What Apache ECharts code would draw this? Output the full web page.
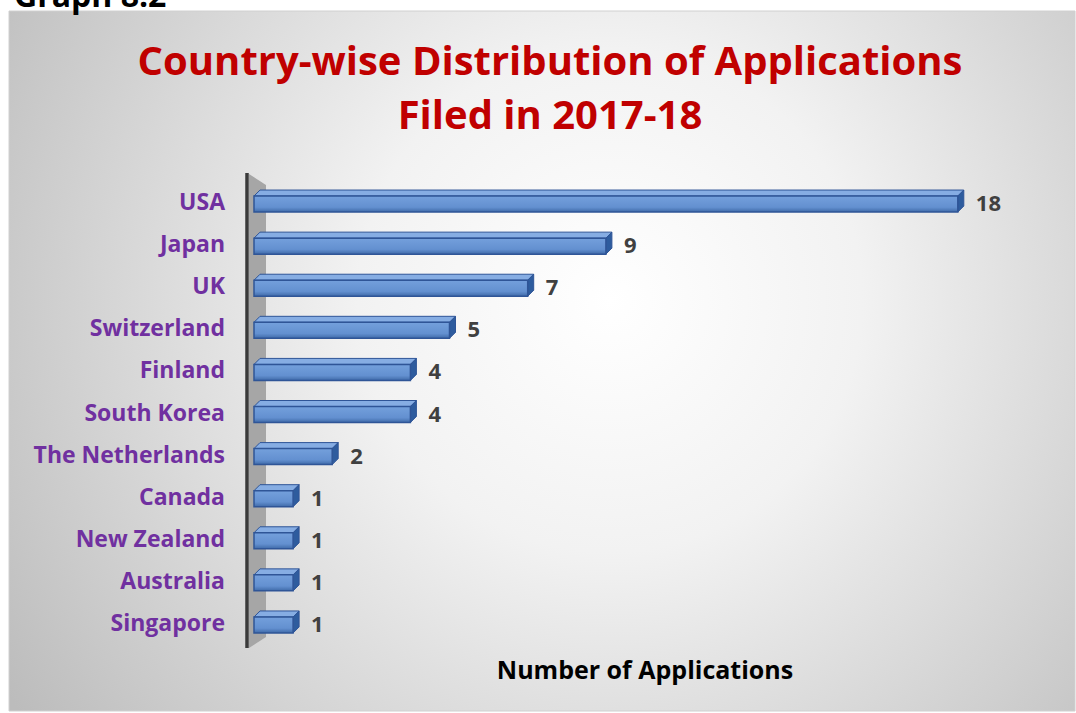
<!DOCTYPE html>
<html>
<head>
<meta charset="utf-8">
<script src="https://cdn.jsdelivr.net/npm/echarts@6/dist/echarts.min.js"></script>
<style>
  html, body { margin: 0; padding: 0; background: #fff; }
  #main { width: 1076px; height: 713px; }
</style>
</head>
<body>
<div id="main"></div>
<script>
// data
var countries = ['USA', 'Japan', 'UK', 'Switzerland', 'Finland', 'South Korea',
    'The Netherlands', 'Canada', 'New Zealand', 'Australia', 'Singapore'];
var applications = [18, 9, 7, 5, 4, 4, 2, 1, 1, 1, 1];

var gridLeft = 254, gridRight = 40, gridTop = 180, gridBottom = 70;
var W = 1076, H = 713;
var gTop = gridTop, gBottom = H - gridBottom;
var axisX = gridLeft - 7;
var depth = 6;
var font = '"Open Sans"';

var chart = echarts.init(document.getElementById('main'), null, { renderer: 'svg' });

// 3D-ish bar
function renderBar(params, api) {
    var val = api.value(1);
    var start = api.coord([0, api.value(0)]);
    var end = api.coord([val, api.value(0)]);
    var h = 22;
    var x0 = start[0], x1 = end[0];
    var top = end[1] - h / 2, bot = end[1] + h / 2;
    return {
        type: 'group',
        children: [
            {
                type: 'polygon',
                shape: { points: [[x0, top + depth], [x0 + depth, top], [x1 + depth, top], [x1, top + depth]] },
                style: { fill: '#86adE3', stroke: '#2f5597', lineWidth: 1 }
            },
            {
                type: 'polygon',
                shape: { points: [[x1, top + depth], [x1 + depth, top], [x1 + depth, bot - depth], [x1, bot]] },
                style: { fill: '#2e5c9e', stroke: '#2f5597', lineWidth: 1 }
            },
            {
                type: 'rect',
                shape: { x: x0, y: top + depth, width: x1 - x0, height: h - depth },
                style: {
                    fill: new echarts.graphic.LinearGradient(0, 0, 0, 1, [
                        { offset: 0, color: '#74a0dc' },
                        { offset: 0.7, color: '#6390d0' },
                        { offset: 1, color: '#3f6aa8' }
                    ]),
                    stroke: '#2f5597', lineWidth: 1.5
                }
            },
            {
                type: 'text',
                style: {
                    text: String(val), x: x1 + depth + 12, y: end[1] + 1,
                    align: 'left', verticalAlign: 'middle',
                    fill: '#404040', font: 'bold 22px ' + font
                }
            }
        ]
    };
}

var seriesData = countries.map(function (c, i) { return [i, applications[i]]; });

var option = {
    animation: false,
    title: {
        text: 'Country-wise Distribution of Applications\nFiled in 2017-18',
        left: 545,
        top: 27,
        textAlign: 'center',
        textStyle: {
            color: '#c00000', fontSize: 40, fontWeight: 'bold',
            fontFamily: 'Open Sans', lineHeight: 54
        }
    },
    grid: { left: gridLeft, right: gridRight, top: gridTop, bottom: gridBottom },
    xAxis: {
        type: 'value', min: 0, max: 20,
        axisLine: { show: false }, axisTick: { show: false },
        axisLabel: { show: false }, splitLine: { show: false },
        name: 'Number of Applications', nameLocation: 'middle', nameGap: 13,
        nameTextStyle: { color: '#000', fontSize: 25, fontWeight: 'bold', fontFamily: 'Open Sans' }
    },
    yAxis: {
        type: 'category', data: countries, inverse: true,
        axisLine: { show: false }, axisTick: { show: false },
        axisLabel: {
            margin: 29, color: '#7030a0', fontSize: 23, fontWeight: 'bold', fontFamily: 'Open Sans'
        }
    },
    graphic: [
        {
            type: 'rect', z: -10, silent: true,
            shape: { x: 9, y: 11, width: 1066, height: 700 },
            style: {
                fill: new echarts.graphic.RadialGradient(610, 300, 720, [
                    { offset: 0, color: '#ffffff' },
                    { offset: 0.35, color: '#f2f2f2' },
                    { offset: 1, color: '#bcbcbc' }
                ], true),
                stroke: '#d0d0d0', lineWidth: 1
            }
        },
        {
            type: 'text', z: 5,
            style: { text: 'Graph 8.2', x: 14, y: 10, verticalAlign: 'bottom', fill: '#000', font: 'bold 32px ' + font }
        },
        {
            type: 'polygon', z: -5, silent: true,
            shape: { points: [[axisX + 2, gTop - 6], [axisX + 19, gTop + 5], [axisX + 19, gBottom - 6], [axisX + 2, gBottom + 5]] },
            style: { fill: '#a6a6a6' }
        },
        {
            type: 'line', z: 10, silent: true,
            shape: { x1: axisX, y1: gTop - 7, x2: axisX, y2: gBottom + 5 },
            style: { stroke: '#3a3a3a', lineWidth: 3.5 }
        }
    ],
    series: [{
        type: 'custom',
        renderItem: renderBar,
        encode: { x: 1, y: 0 },
        data: seriesData,
        z: 5
    }]
};

chart.setOption(option);
</script>
</body>
</html>
